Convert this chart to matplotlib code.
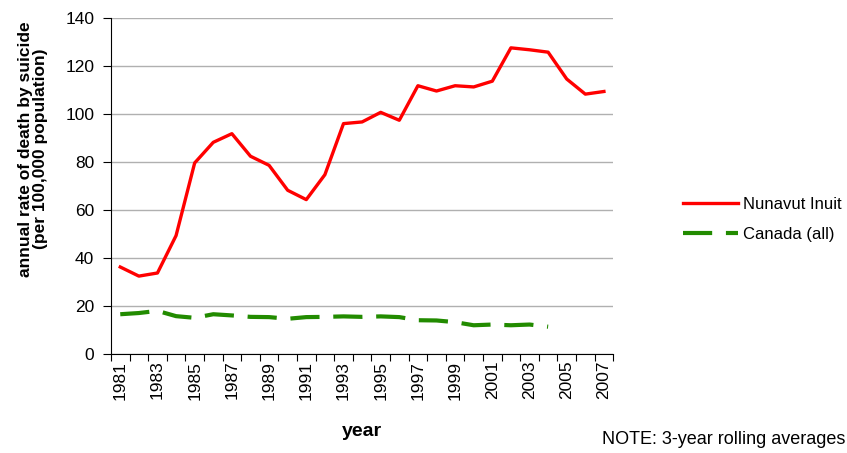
import numpy as np
import matplotlib.pyplot as plt

plt.rcParams['font.family'] = ['Liberation Sans', 'DejaVu Sans']

years = list(range(1981, 2008))
nunavut = [36.2, 32.4, 33.7, 49.3, 79.6, 88.2, 91.8, 82.4, 78.6, 68.2, 64.3, 74.7,
           96.0, 96.7, 100.7, 97.4, 111.8, 109.6, 111.8, 111.3, 113.7, 127.6, 126.8,
           125.8, 114.6, 108.3, 109.4]
canada = [16.5, 17.0, 17.9, 15.7, 15.0, 16.5, 16.0, 15.4, 15.3, 14.6, 15.3, 15.4,
          15.6, 15.4, 15.6, 15.3, 14.0, 13.9, 13.2, 11.9, 12.2, 11.9, 12.2, 11.3]

fig = plt.figure(figsize=(8.47, 4.53), dpi=100)
ax = fig.add_axes([0.131, 0.219, 0.593, 0.741])

x = np.arange(len(years))
ax.plot(x, nunavut, color='#ff0000', lw=2.4, label='Nunavut Inuit')
ax.plot(x[:len(canada)], canada, color='#228b00', lw=3, dashes=(7, 3.3),
        label='Canada (all)')

ax.set_xlim(-0.5, len(years) - 0.5)
ax.set_ylim(0, 140)
ax.set_yticks(range(0, 141, 20))
ax.grid(axis='y', color='#b0b0b0', lw=1)
ax.set_axisbelow(True)

# ticks sit between the categories, labels on every other year
ax.set_xticks(np.arange(-0.5, len(years), 1))
ax.set_xticklabels([])
ax.set_xticks(x[::2], minor=True)
ax.set_xticklabels([str(y) for y in years[::2]], minor=True, rotation=90, fontsize=12.5)
ax.tick_params(axis='x', which='minor', length=0, pad=5)
ax.tick_params(axis='x', which='major', length=5, direction='out')
ax.tick_params(axis='y', labelsize=12.5, length=6, pad=6)

for s in ['top', 'right']:
    ax.spines[s].set_visible(False)

ax.set_xlabel('year', fontsize=14, fontweight='bold', labelpad=17)
ax.set_ylabel('annual rate of death by suicide\n(per 100,000 population)',
              fontsize=12.5, fontweight='bold', linespacing=1.0)
ax.yaxis.set_label_coords(-0.125, 0.61)

ax.legend(loc='center left', bbox_to_anchor=(1.11, 0.40), frameon=False,
          fontsize=12, handlelength=3.3, handletextpad=0.3, labelspacing=0.9)

fig.text(0.998, 0.012, 'NOTE: 3-year rolling averages', ha='right', va='bottom', fontsize=13)

fig.savefig('out.png', dpi=100)
